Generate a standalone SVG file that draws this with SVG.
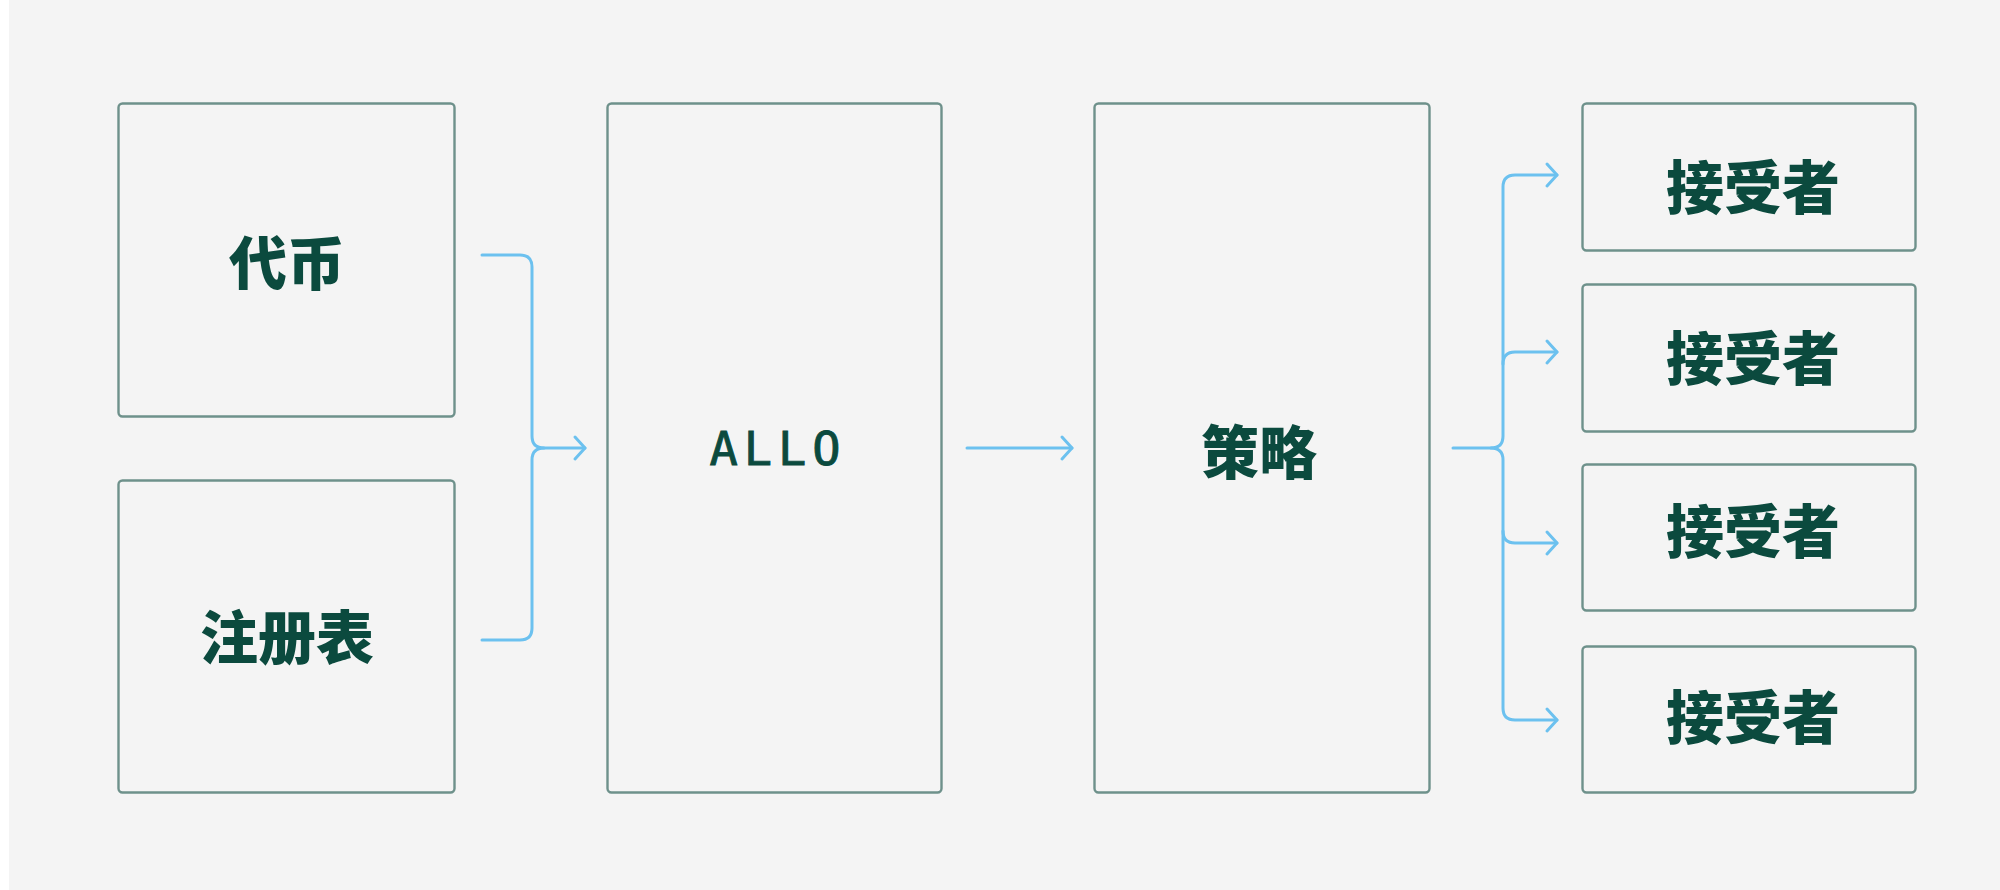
<svg xmlns="http://www.w3.org/2000/svg" width="2000" height="890" viewBox="0 0 2000 890">
  <defs>
    <style>
      .box { fill: #f4f4f4; stroke: #6e918b; stroke-width: 2.4; }
      .cjk { font-family: "Noto Sans CJK SC", "Noto Sans", sans-serif; font-weight: 900; font-size: 58px; fill: #0b4a3e; text-anchor: middle; }
      .mono { font-family: "DejaVu Sans Mono", "Liberation Mono", monospace; font-size: 47px; fill: #0b4a3e; stroke: #0b4a3e; stroke-width: 0.9; text-anchor: middle; letter-spacing: 6px; }
      .conn { fill: none; stroke: #6cc1ef; stroke-width: 3; stroke-linecap: round; stroke-linejoin: round; }
    </style>
    <marker id="arrow" markerUnits="userSpaceOnUse" markerWidth="30" markerHeight="30" viewBox="-15 -15 30 30" refX="0" refY="0" orient="auto">
      <path d="M-10,-11 L0,0 L-10,11" fill="none" stroke="#6cc1ef" stroke-width="3" stroke-linecap="round" stroke-linejoin="round"/>
    </marker>
  </defs>
  <rect x="0" y="0" width="2000" height="890" fill="#ffffff"/>
  <rect x="9" y="0" width="1991" height="890" fill="#f4f4f4"/>

  <g id="connectors">
    <path class="conn" d="M482,255 H520 Q532,255 532,267 V436 Q532,448 544,448"/>
    <path class="conn" d="M482,640 H520 Q532,640 532,628 V460 Q532,448 544,448 H585" marker-end="url(#arrow)"/>
    <path class="conn" d="M967,448 H1072" marker-end="url(#arrow)"/>
    <path class="conn" d="M1453,448 H1491 Q1503,448 1503,436 V187 Q1503,175 1515,175 H1557" marker-end="url(#arrow)"/>
    <path class="conn" d="M1491,448 Q1503,448 1503,460 V708 Q1503,720 1515,720 H1557" marker-end="url(#arrow)"/>
    <path class="conn" d="M1503,364 Q1503,352 1515,352 H1557" marker-end="url(#arrow)"/>
    <path class="conn" d="M1503,531 Q1503,543 1515,543 H1557" marker-end="url(#arrow)"/>
  </g>

  <g id="token">
    <rect class="box" x="118.5" y="103.5" width="336" height="313" rx="4"/>
    <text class="cjk" x="287" y="285">代币</text>
  </g>
  <g id="registry">
    <rect class="box" x="118.5" y="480.5" width="336" height="312" rx="4"/>
    <text class="cjk" x="287" y="659">注册表</text>
  </g>
  <g id="allo">
    <rect class="box" x="607.5" y="103.5" width="334" height="689" rx="4"/>
    <text class="mono" x="778" y="465">ALLO</text>
  </g>
  <g id="strategy">
    <rect class="box" x="1094.5" y="103.5" width="335" height="689" rx="4"/>
    <text class="cjk" x="1259" y="474">策略</text>
  </g>
  <g id="recipient1">
    <rect class="box" x="1582.5" y="103.5" width="333" height="147" rx="4"/>
    <text class="cjk" x="1753" y="209">接受者</text>
  </g>
  <g id="recipient2">
    <rect class="box" x="1582.5" y="284.5" width="333" height="147" rx="4"/>
    <text class="cjk" x="1753" y="380">接受者</text>
  </g>
  <g id="recipient3">
    <rect class="box" x="1582.5" y="464.5" width="333" height="146" rx="4"/>
    <text class="cjk" x="1753" y="553">接受者</text>
  </g>
  <g id="recipient4">
    <rect class="box" x="1582.5" y="646.5" width="333" height="146" rx="4"/>
    <text class="cjk" x="1753" y="739">接受者</text>
  </g>
</svg>
